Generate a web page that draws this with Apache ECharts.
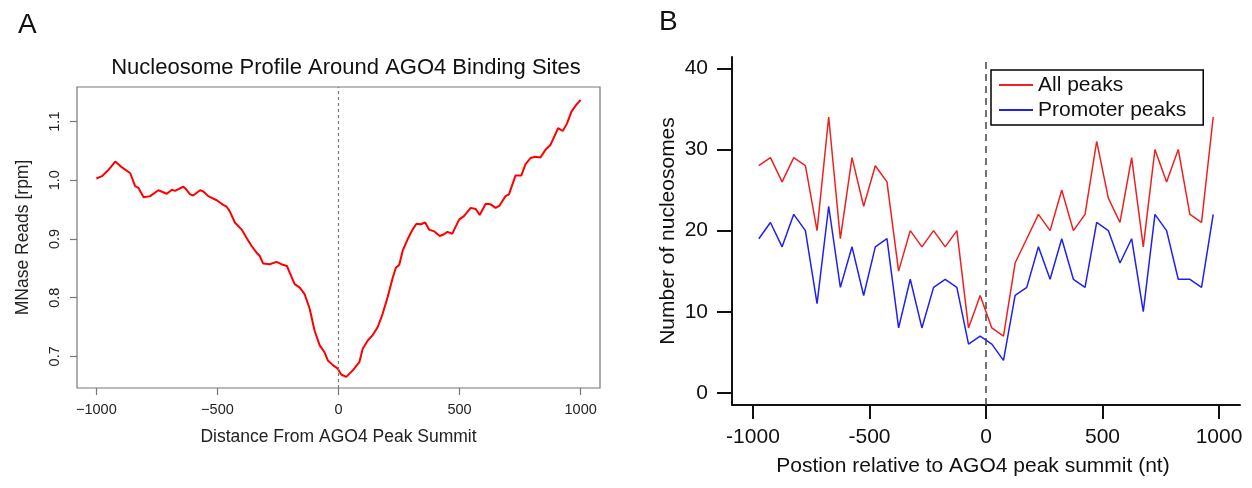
<!DOCTYPE html>
<html>
<head>
<meta charset="utf-8">
<script src="https://cdn.jsdelivr.net/npm/echarts@6/dist/echarts.min.js"></script>
<style>html,body{margin:0;padding:0;background:#fff;}#c{width:1252px;height:488px;}</style>
</head>
<body>
<div id="c"></div>
<script>
// Panel A: nucleosome profile (distance in nt, MNase reads in rpm)
const A_POS = [-1000,-977,-949,-922,-894,-860,-840,-826,-805,-778,-744,-709,-688,-675,-641,-630,-613,-600,-572,-558,-538,-503,-476,-462,-449,-428,-400,-380,-359,-339,-325,-311,-284,-256,-236,-213,-202,-181,-160,-140,-119,-99,-78,-58,-44,-23,-3,11,32,59,86,100,121,141,162,182,203,224,237,251,265,285,306,322,340,358,374,395,418,436,450,470,498,518,546,567,583,608,628,649,665,690,704,731,755,772,793,813,834,855,875,907,926,944,962,981,1000];
const A_READS = [1.003,1.007,1.018,1.032,1.022,1.012,0.990,0.987,0.971,0.973,0.983,0.977,0.984,0.982,0.989,0.985,0.976,0.974,0.983,0.981,0.973,0.966,0.958,0.955,0.947,0.928,0.916,0.902,0.888,0.877,0.871,0.858,0.857,0.861,0.857,0.854,0.843,0.823,0.817,0.806,0.781,0.744,0.719,0.707,0.693,0.685,0.679,0.669,0.665,0.676,0.690,0.713,0.727,0.736,0.750,0.772,0.801,0.834,0.851,0.856,0.880,0.899,0.916,0.926,0.925,0.928,0.916,0.913,0.905,0.908,0.912,0.909,0.933,0.939,0.953,0.951,0.941,0.960,0.959,0.953,0.957,0.973,0.976,1.008,1.008,1.027,1.038,1.040,1.039,1.052,1.060,1.089,1.084,1.097,1.117,1.128,1.137];
const A_XTICKS = [-1000,-500,0,500,1000];
const A_YTICKS = [0.7,0.8,0.9,1.0,1.1];

// Panel B: number of nucleosomes per 50-nt bin
const B_POS = [-975,-925,-875,-825,-775,-725,-675,-625,-575,-525,-475,-425,-375,-325,-275,-225,-175,-125,-75,-25,25,75,125,175,225,275,325,375,425,475,525,575,625,675,725,775,825,875,925,975];
const B_ALL = [28,29,26,29,28,20,34,19,29,23,28,26,15,20,18,20,18,20,8,12,8,7,16,19,22,20,25,20,22,31,24,21,29,18,30,26,30,22,21,34];
const B_PROMOTER = [19,21,18,22,20,11,23,13,18,12,18,19,8,14,8,13,14,13,6,7,6,4,12,13,18,14,19,14,13,21,20,16,19,10,22,20,14,14,13,22];
const B_XTICKS = [-1000,-500,0,500,1000];
const B_YTICKS = [0,10,20,30,40];

const FONT = 'Liberation Sans, Arial, Helvetica, sans-serif';
const pairs = (xs, ys) => xs.map((x, i) => [x, ys[i]]);

const chart = echarts.init(document.getElementById('c'), null, {renderer: 'canvas'});
chart.setOption({
  animation: false,
  backgroundColor: '#fff',
  textStyle: {fontFamily: FONT},
  title: [
    {text: 'A', left: 13, top: 6, textStyle: {fontSize: 28, fontWeight: 'normal', color: '#111', fontFamily: FONT}},
    {text: 'B', left: 654, top: 3, textStyle: {fontSize: 28, fontWeight: 'normal', color: '#111', fontFamily: FONT}},
    {text: 'Nucleosome Profile Around AGO4 Binding Sites', left: 341, top: 52, textAlign: 'center',
     textStyle: {fontSize: 22, fontWeight: 'normal', color: '#111', fontFamily: FONT}}
  ],
  legend: {
    data: ['All peaks', 'Promoter peaks'],
    left: 991, top: 70, orient: 'vertical',
    borderColor: '#000', borderWidth: 1.5, backgroundColor: '#fff',
    padding: [3, 17, 3, 8], itemGap: 1,
    icon: 'rect', itemWidth: 34, itemHeight: 2,
    textStyle: {fontSize: 21, lineHeight: 24, color: '#111', fontFamily: FONT}
  },
  grid: [
    {left: 77, top: 87, width: 523, height: 301, show: true, borderColor: '#777', borderWidth: 1.2, backgroundColor: 'transparent'},
    {left: 732, top: 57, width: 508, height: 348}
  ],
  xAxis: [
    {gridIndex: 0, type: 'value', min: -1080, max: 1080,
     splitLine: {show: false},
     axisLine: {show: false, onZero: false},
     axisTick: {show: true, length: 7, customValues: A_XTICKS, lineStyle: {color: '#777', width: 1.2}},
     axisLabel: {customValues: A_XTICKS, margin: 14, fontSize: 14.5, color: '#222', fontFamily: FONT,
                 formatter: v => (v < 0 ? '\u2212' + Math.abs(v) : String(v))},
     name: 'Distance From AGO4 Peak Summit', nameLocation: 'middle', nameGap: 40,
     nameTextStyle: {fontSize: 17.5, color: '#222', fontFamily: FONT}},
    {gridIndex: 1, type: 'value', min: -1090, max: 1090,
     splitLine: {show: false},
     axisLine: {show: true, onZero: false, lineStyle: {color: '#111', width: 2}},
     axisTick: {show: true, length: 14, customValues: B_XTICKS, lineStyle: {color: '#111', width: 2}},
     axisLabel: {customValues: B_XTICKS, margin: 22, fontSize: 21, color: '#111', fontFamily: FONT,
                 formatter: v => String(v)},
     name: 'Postion relative to AGO4 peak summit (nt)', nameLocation: 'middle', nameGap: 51,
     nameTextStyle: {fontSize: 21, color: '#111', fontFamily: FONT, padding: [0, 26, 0, 0]}}
  ],
  yAxis: [
    {gridIndex: 0, type: 'value', min: 0.646, max: 1.159,
     splitLine: {show: false},
     axisLine: {show: false, onZero: false},
     axisTick: {show: true, length: 7, customValues: A_YTICKS, lineStyle: {color: '#777', width: 1.2}},
     axisLabel: {customValues: A_YTICKS, rotate: 90, margin: 15, fontSize: 14.5, color: '#222', fontFamily: FONT,
                 formatter: v => v.toFixed(1)},
     name: 'MNase Reads [rpm]', nameLocation: 'middle', nameGap: 45,
     nameTextStyle: {fontSize: 17.5, color: '#222', fontFamily: FONT}},
    {gridIndex: 1, type: 'value', min: -1.5, max: 41.4,
     splitLine: {show: false},
     axisLine: {show: true, onZero: false, lineStyle: {color: '#111', width: 2}},
     axisTick: {show: true, length: 15, customValues: B_YTICKS, lineStyle: {color: '#111', width: 2}},
     axisLabel: {customValues: B_YTICKS, margin: 24, fontSize: 21, color: '#111', fontFamily: FONT,
                 formatter: v => String(v)},
     name: 'Number of nucleosomes', nameLocation: 'middle', nameGap: 53,
     nameTextStyle: {fontSize: 21, color: '#111', fontFamily: FONT}}
  ],
  series: [
    {name: 'profile', type: 'line', xAxisIndex: 0, yAxisIndex: 0, data: pairs(A_POS, A_READS),
     symbol: 'none', lineStyle: {color: '#ff0000', width: 2}, itemStyle: {color: '#ff0000'},
     markLine: {silent: true, symbol: 'none', label: {show: false},
                lineStyle: {color: '#777', type: [3, 3], width: 1.2}, data: [{xAxis: 0}]}},
    {name: 'All peaks', type: 'line', xAxisIndex: 1, yAxisIndex: 1, data: pairs(B_POS, B_ALL),
     symbol: 'none', lineStyle: {color: '#ef2020', width: 1.5}, itemStyle: {color: '#ef2020'},
     markLine: {silent: true, symbol: 'none', label: {show: false},
                lineStyle: {color: '#444', type: [7, 5], width: 1.5}, data: [{xAxis: 0}]}},
    {name: 'Promoter peaks', type: 'line', xAxisIndex: 1, yAxisIndex: 1, data: pairs(B_POS, B_PROMOTER),
     symbol: 'none', lineStyle: {color: '#2020ef', width: 1.5}, itemStyle: {color: '#2020ef'}}
  ]
});
</script>
</body>
</html>
